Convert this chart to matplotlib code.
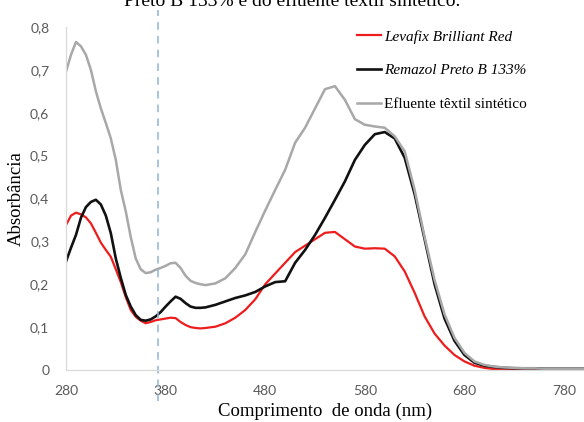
import numpy as np
import matplotlib.pyplot as plt

# comprimento de onda (nm)
wl = [280, 285, 290, 295, 300, 305, 310, 315, 320, 325,
      330, 335, 340, 345, 350, 355, 360, 365, 370, 375,
      380, 385, 390, 395, 400, 405, 410, 415,
      420, 430, 440, 450, 460, 470, 480, 490, 500, 510,
      520, 530, 540, 550, 560, 570, 580, 590, 600, 610,
      620, 630, 640, 650, 660, 670, 680, 690, 700, 710,
      720, 730, 740, 750, 760, 770, 780, 790, 800]

levafix = [0.338, 0.360, 0.367, 0.363, 0.356, 0.342, 0.320, 0.297, 0.280, 0.264,
           0.235, 0.205, 0.170, 0.140, 0.124, 0.115, 0.109, 0.112, 0.116, 0.118,
           0.120, 0.122, 0.121, 0.112, 0.105, 0.100, 0.098, 0.097,
           0.098, 0.101, 0.109, 0.122, 0.140, 0.165, 0.200, 0.225, 0.250, 0.275,
           0.290, 0.305, 0.320, 0.322, 0.305, 0.288, 0.283, 0.284, 0.283, 0.265,
           0.230, 0.180, 0.125, 0.085, 0.057, 0.035, 0.020, 0.010, 0.005, 0.002,
           0.001, 0.0, 0.0, 0.0, 0.0, 0.0, 0.0, 0.0, 0.0]

remazol = [0.253, 0.285, 0.315, 0.355, 0.380, 0.392, 0.397, 0.386, 0.360, 0.319,
           0.260, 0.215, 0.175, 0.148, 0.128, 0.117, 0.115, 0.118, 0.125, 0.135,
           0.148, 0.160, 0.171, 0.166, 0.156, 0.148, 0.145, 0.145,
           0.146, 0.152, 0.160, 0.168, 0.174, 0.182, 0.195, 0.205, 0.207, 0.250,
           0.280, 0.315, 0.355, 0.397, 0.440, 0.490, 0.525, 0.550, 0.555, 0.540,
           0.495, 0.410, 0.305, 0.200, 0.120, 0.068, 0.035, 0.017, 0.010, 0.007,
           0.005, 0.004, 0.004, 0.004, 0.003, 0.003, 0.003, 0.003, 0.003]

efluente = [0.696, 0.735, 0.765, 0.755, 0.735, 0.700, 0.650, 0.610, 0.576, 0.540,
            0.490, 0.420, 0.370, 0.310, 0.260, 0.235, 0.226, 0.228, 0.234, 0.238,
            0.243, 0.249, 0.250, 0.238, 0.220, 0.208, 0.203, 0.200,
            0.198, 0.202, 0.214, 0.238, 0.270, 0.322, 0.372, 0.420, 0.467, 0.530,
            0.565, 0.610, 0.655, 0.662, 0.630, 0.585, 0.572, 0.568, 0.565, 0.545,
            0.510, 0.420, 0.310, 0.210, 0.130, 0.075, 0.040, 0.020, 0.012, 0.008,
            0.006, 0.005, 0.004, 0.004, 0.003, 0.003, 0.003, 0.003, 0.003]

labels = ['Levafix Brilliant Red', 'Remazol Preto B 133%', 'Efluente têxtil sintético']
xticks = [280, 380, 480, 580, 680, 780]
yticks = [0, 0.1, 0.2, 0.3, 0.4, 0.5, 0.6, 0.7, 0.8]
ytick_labels = ['0', '0,1', '0,2', '0,3', '0,4', '0,5', '0,6', '0,7', '0,8']
linha_ref = 372

fig = plt.figure(figsize=(5.84, 4.22), dpi=100)
ax = fig.add_axes([66 / 584, 52 / 422, 1 - 66 / 584, 343 / 422])

ax.plot(wl, levafix, color='#ee1c1c', lw=1.6, label=labels[0])
ax.plot(wl, remazol, color='#111111', lw=1.9, label=labels[1])
ax.plot(wl, efluente, color='#a8a8a8', lw=1.8, label=labels[2])

ax.axvline(linha_ref, ymin=-0.09, ymax=1.05, color='#8fb4d8', lw=1.1,
           ls=(0, (5, 4)), clip_on=False)

ax.set_xlim(280, 800)
ax.set_ylim(0, 0.8)
ax.set_xticks(xticks)
ax.set_yticks(yticks)
ax.set_yticklabels(ytick_labels)
ax.tick_params(length=0, labelsize=10, labelcolor='#595959')
ax.tick_params(axis='x', pad=11)
ax.tick_params(axis='y', pad=12)
for lab in ax.get_xticklabels() + ax.get_yticklabels():
    lab.set_family('Lato')

for s in ['top', 'right']:
    ax.spines[s].set_visible(False)
for s in ['left', 'bottom']:
    ax.spines[s].set_color('#d9d9d9')
    ax.spines[s].set_linewidth(0.9)

ax.set_xlabel('Comprimento  de onda (nm)', family='Liberation Serif', fontsize=13.5, labelpad=4)
ax.set_ylabel('Absorbância', family='Liberation Serif', fontsize=13.5, labelpad=4)

leg = ax.legend(loc='upper left', bbox_to_anchor=(357 / 584, 1 - 30 / 422),
                bbox_transform=fig.transFigure, frameon=False, borderpad=0,
                borderaxespad=0, handlelength=1.6, handletextpad=0.2,
                labelspacing=1.3, prop={'family': 'Liberation Serif', 'size': 11})
for i, t in enumerate(leg.get_texts()):
    if i < 2:
        t.set_style('italic')

fig.text(0.5, 1 - 6 / 422, 'Preto B 133% e do efluente têxtil sintético.',
         ha='center', va='baseline', family='Liberation Serif', fontsize=14)

fig.savefig('out.png', dpi=100)
